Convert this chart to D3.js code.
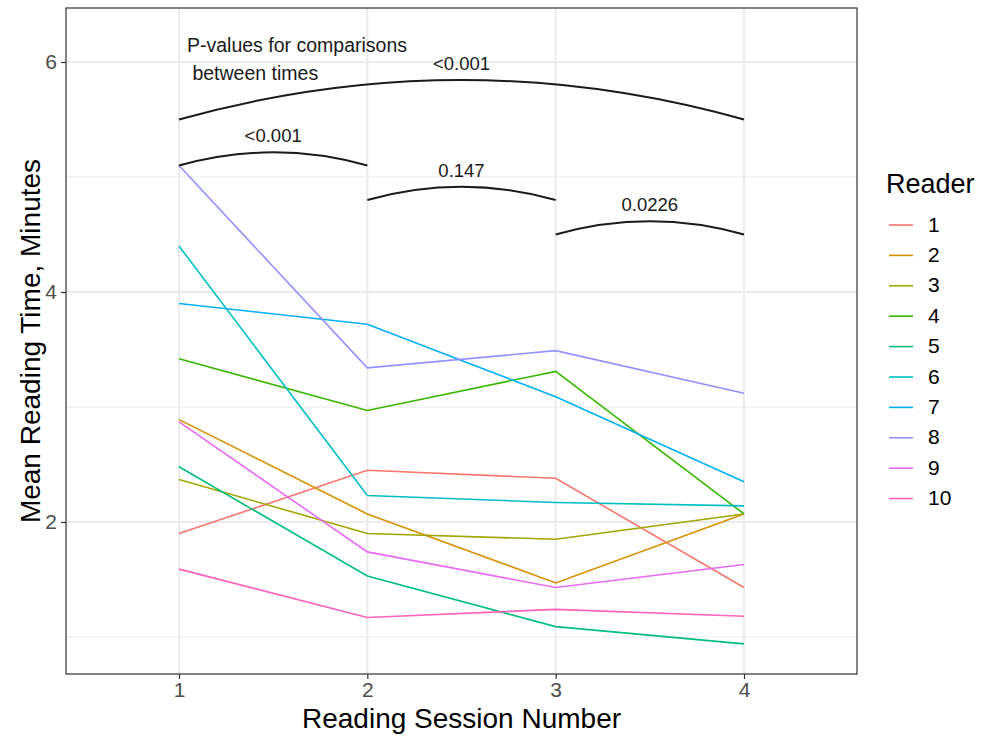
<!DOCTYPE html>
<html><head><meta charset="utf-8">
<script src="https://cdn.jsdelivr.net/npm/d3@7"></script>
<style>body{margin:0;background:#fff;font-family:"Liberation Sans",Arial,sans-serif;}</style>
</head><body><svg id="c" width="987" height="741"></svg>
<script>
const sessions = [1, 2, 3, 4];
const readers = ["1","2","3","4","5","6","7","8","9","10"];
const colors = ["#F8766D","#D89000","#A3A500","#39B600","#00BF7D","#00BFC4","#00B0F6","#9590FF","#E76BF3","#FF62BC"];
const r1  = [1.90, 2.45, 2.38, 1.43];
const r2  = [2.89, 2.07, 1.47, 2.07];
const r3  = [2.37, 1.90, 1.85, 2.07];
const r4  = [3.42, 2.97, 3.31, 2.07];
const r5  = [2.48, 1.53, 1.09, 0.94];
const r6  = [4.40, 2.23, 2.17, 2.14];
const r7  = [3.90, 3.72, 3.09, 2.35];
const r8  = [5.10, 3.34, 3.49, 3.12];
const r9  = [2.87, 1.74, 1.43, 1.63];
const r10 = [1.59, 1.17, 1.24, 1.18];
const series = [r1, r2, r3, r4, r5, r6, r7, r8, r9, r10];
const yTicks = [2, 4, 6];
const yMinor = [1, 3, 5];
const compFrom = [1, 1, 2, 3];
const compTo   = [4, 2, 3, 4];
const compY    = [5.5, 5.1, 4.8, 4.5];
const compLabel = ["<0.001", "<0.001", "0.147", "0.0226"];
const noteLines = ["P-values for comparisons", " between times"];

const svg = d3.select("#c");
const L = 66, R = 857, T = 8, B = 674;
const x = d3.scaleLinear().domain([0.4, 4.6]).range([L, R]);
const y = d3.scaleLinear().domain([0.678, 6.47]).range([B, T]);

// grid
const g = svg.append("g");
g.selectAll(".ymin").data(yMinor).enter().append("line")
  .attr("x1", L).attr("x2", R).attr("y1", d => y(d)).attr("y2", d => y(d))
  .attr("stroke", "#ebebeb").attr("stroke-width", 1);
g.selectAll(".ymaj").data(yTicks).enter().append("line")
  .attr("x1", L).attr("x2", R).attr("y1", d => y(d)).attr("y2", d => y(d))
  .attr("stroke", "#ebebeb").attr("stroke-width", 2);
g.selectAll(".xmaj").data(sessions).enter().append("line")
  .attr("y1", T).attr("y2", B).attr("x1", d => x(d)).attr("x2", d => x(d))
  .attr("stroke", "#ebebeb").attr("stroke-width", 2);

// lines
const line = d3.line().x((d, i) => x(sessions[i])).y(d => y(d));
svg.append("g").selectAll("path").data(series).enter().append("path")
  .attr("d", d => line(d)).attr("fill", "none")
  .attr("stroke", (d, i) => colors[i]).attr("stroke-width", 1.6);

// comparison arcs
const ag = svg.append("g");
compFrom.forEach((f, i) => {
  const x1 = x(f), x2 = x(compTo[i]), yy = y(compY[i]);
  const sag = 0.07 * (x2 - x1);
  const p = d3.path();
  p.moveTo(x1, yy);
  p.quadraticCurveTo((x1 + x2) / 2, yy - 2 * sag, x2, yy);
  ag.append("path").attr("d", p.toString()).attr("fill", "none")
    .attr("stroke", "#1a1a1a").attr("stroke-width", 2);
  ag.append("text").attr("x", (x1 + x2) / 2).attr("y", yy - sag - 15)
    .attr("text-anchor", "middle").attr("dominant-baseline", "middle")
    .attr("font-size", 18.5).attr("fill", "#1a1a1a").text(compLabel[i]);
});
ag.selectAll(".note").data(noteLines).enter().append("text")
  .attr("x", 187).attr("y", (d, i) => 47 + i * 28)
  .attr("dominant-baseline", "middle").attr("font-size", 19.5).attr("fill", "#1a1a1a")
  .attr("xml:space", "preserve").style("white-space", "pre").text(d => d);

// panel border
svg.append("rect").attr("x", L).attr("y", T).attr("width", R - L).attr("height", B - T)
  .attr("fill", "none").attr("stroke", "#333333").attr("stroke-width", 1.2);

// axes
const xa = svg.append("g").attr("transform", `translate(0,${B})`)
  .call(d3.axisBottom(x).tickValues(sessions).tickFormat(d3.format("d")).tickSize(5).tickPadding(3));
const ya = svg.append("g").attr("transform", `translate(${L},0)`)
  .call(d3.axisLeft(y).tickValues(yTicks).tickFormat(d3.format("d")).tickSize(5).tickPadding(4));
[xa, ya].forEach(a => {
  a.select(".domain").remove();
  a.selectAll(".tick line").attr("stroke", "#333333").attr("stroke-width", 1.2);
  a.selectAll(".tick text").attr("fill", "#4d4d4d").attr("font-size", 21)
    .attr("font-family", "Liberation Sans, Arial, sans-serif");
});

// axis titles
svg.append("text").attr("x", (L + R) / 2).attr("y", 728).attr("text-anchor", "middle")
  .attr("font-size", 28).attr("fill", "#000").text("Reading Session Number");
svg.append("text").attr("transform", `translate(40,${(T + B) / 2}) rotate(-90)`)
  .attr("text-anchor", "middle").attr("font-size", 28).attr("fill", "#000")
  .text("Mean Reading Time, Minutes");

// legend
const lg = svg.append("g");
lg.append("text").attr("x", 886).attr("y", 193).attr("font-size", 27).attr("fill", "#000").text("Reader");
const ent = lg.selectAll(".ent").data(readers).enter().append("g")
  .attr("transform", (d, i) => `translate(0,${225 + i * 30.4})`);
ent.append("line").attr("x1", 889).attr("x2", 913).attr("y1", 0).attr("y2", 0)
  .attr("stroke", (d, i) => colors[i]).attr("stroke-width", 1.6);
ent.append("text").attr("x", 928).attr("y", 1).attr("dominant-baseline", "middle")
  .attr("font-size", 21).attr("fill", "#000").text(d => d);
</script></body></html>
